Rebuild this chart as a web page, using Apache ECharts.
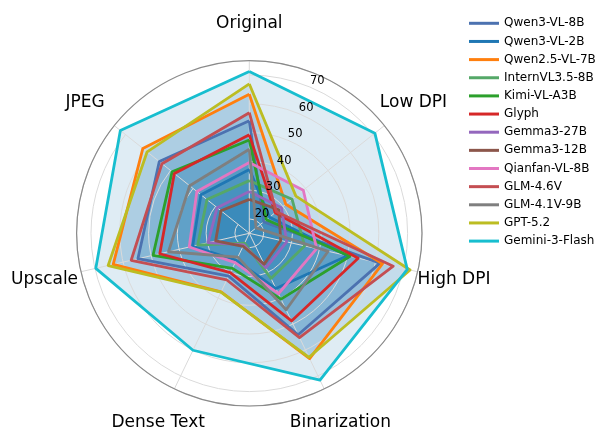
<!DOCTYPE html>
<html><head><meta charset="utf-8">
<script src="https://cdn.jsdelivr.net/npm/echarts@6/dist/echarts.min.js"></script>
<style>html,body{margin:0;padding:0;background:#fff}#c{width:595px;height:430px}</style>
</head><body><div id="c"></div>
<script>
// ---- data ----
const categories = ['Original', 'Low DPI', 'High DPI', 'Binarization', 'Dense Text', 'Upscale', 'JPEG'];
const models = ['Qwen3-VL-8B', 'Qwen3-VL-2B', 'Qwen2.5-VL-7B', 'InternVL3.5-8B', 'Kimi-VL-A3B', 'Glyph',
  'Gemma3-27B', 'Gemma3-12B', 'Qianfan-VL-8B', 'GLM-4.6V', 'GLM-4.1V-9B', 'GPT-5.2', 'Gemini-3-Flash'];
const colors = ['#4c72b0', '#1f77b4', '#ff7f0e', '#55a868', '#2ca02c', '#d62728',
  '#9467bd', '#8c564b', '#e377c2', '#c44e52', '#7f7f7f', '#bcbd22', '#17becf'];
// values per model: [Original, Low DPI, High DPI, Binarization, Dense Text, Upscale, JPEG]
const qwen3vl8b   = [54.1, 21.4, 61.6, 54.1, 31.5, 54.7, 55.0];
const qwen3vl2b   = [37.2, 24.0, 50.0, 36.3, 25.4, 35.2, 36.5];
const qwen25vl7b  = [63.3, 31.2, 62.5, 63.3, 37.6, 63.5, 62.3];
const internvl35  = [33.3, 34.0, 34.7, 32.4, 18.8, 33.4, 33.8];
const kimivl      = [47.4, 22.6, 50.9, 40.4, 28.5, 49.3, 49.3];
const glyph       = [49.2, 26.5, 53.8, 48.8, 30.2, 46.9, 48.3];
const gemma27b    = [29.5, 29.3, 28.3, 28.3, 19.5, 29.7, 29.3];
const gemma12b    = [26.8, 28.1, 26.2, 26.9, 20.0, 27.0, 27.6];
const qianfan     = [39.6, 39.0, 39.0, 38.3, 26.3, 36.4, 38.3];
const glm46v      = [56.9, 27.0, 66.3, 55.2, 33.0, 57.1, 53.8];
const glm41v      = [44.2, 18.0, 43.1, 44.5, 24.2, 43.8, 41.5];
const gpt52       = [66.9, 35.7, 72.3, 62.8, 37.7, 65.3, 60.4];
const gemini3     = [71.2, 70.8, 71.3, 71.6, 60.1, 69.7, 72.3];
const seriesValues = [qwen3vl8b, qwen3vl2b, qwen25vl7b, internvl35, kimivl, glyph,
  gemma27b, gemma12b, qianfan, glm46v, glm41v, gpt52, gemini3];
const radialTicks = [20, 30, 40, 50, 60, 70];
const rMin = 15, rMax = 75;

// ---- layout ----
const CX = 249.3, CY = 233.3, R = 172.7, LABEL_R = 210;
const FONT = 'DejaVu Sans';
const n = categories.length;
// radar runs counter-clockwise; reorder so the picture runs clockwise
const order = categories.map((_, k) => (n - k) % n);

const series = [];
seriesValues.forEach((vals, i) => {
  series.push({
    type: 'radar', radarIndex: 0, name: models[i] + ' fill', z: 1, silent: true,
    symbol: 'none',
    lineStyle: { width: 0, opacity: 0 },
    areaStyle: { color: '#1f77b4', opacity: 0.14 },
    data: [{ value: order.map(k => vals[k]) }]
  });
});
seriesValues.forEach((vals, i) => {
  series.push({
    type: 'radar', radarIndex: 0, name: models[i], z: 3,
    symbol: 'none',
    itemStyle: { color: colors[i] },
    lineStyle: { color: colors[i], width: 2.8, join: 'round' },
    data: [{ value: order.map(k => vals[k]), name: models[i] }]
  });
});

const option = {
  animation: false,
  textStyle: { fontFamily: FONT },
  polar: [
    { center: [CX, CY], radius: R },
    { center: [CX, CY], radius: R }
  ],
  angleAxis: [
    { polarIndex: 0, type: 'category', data: categories, boundaryGap: false, startAngle: 90, clockwise: true, z: 2,
      axisLine: { show: false },
      axisTick: { show: false }, axisLabel: { show: false },
      splitLine: { show: true, lineStyle: { color: '#dadada', width: 1 } } },
    { polarIndex: 1, type: 'value', min: 0, max: 360, startAngle: 67.5, z: 2,
      axisLine: { show: true, lineStyle: { color: '#8a8a8a', width: 1.2 } },
      axisTick: { show: false }, axisLabel: { show: false }, splitLine: { show: false } }
  ],
  radiusAxis: [
    { polarIndex: 0, type: 'value', min: rMin, max: rMax, splitNumber: 6, z: 2,
      axisLine: { show: false }, axisTick: { show: false }, axisLabel: { show: false },
      splitLine: { show: true, lineStyle: { color: '#dadada', width: 1 } } },
    { polarIndex: 1, type: 'value', min: rMin, max: rMax, splitNumber: 6, z: 4,
      axisLine: { show: false }, axisTick: { show: false }, splitLine: { show: false },
      axisLabel: { show: true, margin: 0, align: 'left', verticalAlign: 'bottom',
        fontSize: 11.5, color: '#000', fontFamily: FONT,
        showMinLabel: false, showMaxLabel: false,
        formatter: v => radialTicks.includes(v) ? String(v) : '' } }
  ],
  radar: {
    center: [CX, CY], radius: R, shape: 'circle', startAngle: 90,
    indicator: order.map(k => ({ name: categories[k], min: rMin, max: rMax })),
    axisName: { show: false },
    axisLine: { show: false }, splitLine: { show: false }, splitArea: { show: false },
    axisTick: { show: false }, axisLabel: { show: false }
  },
  legend: {
    orient: 'vertical', left: 464, top: 11.3,
    data: models, icon: 'rect', itemWidth: 30, itemHeight: 3, itemGap: 4.15,
    textStyle: { fontSize: 12, lineHeight: 14, color: '#000', fontFamily: FONT }
  },
  graphic: categories.map((c, k) => {
    const a = k * 2 * Math.PI / n;
    return {
      type: 'text', z: 10,
      x: CX + LABEL_R * Math.sin(a), y: CY - LABEL_R * Math.cos(a),
      style: { text: c, align: 'center', verticalAlign: 'middle', fill: '#000',
        font: '17px "' + FONT + '"' }
    };
  }),
  series: series
};
const chart = echarts.init(document.getElementById('c'), null, { renderer: 'canvas' });
chart.setOption(option);
</script>
</body></html>
